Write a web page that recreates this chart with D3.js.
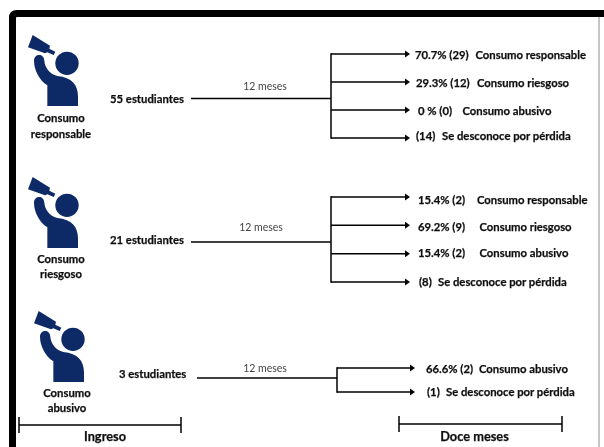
<!DOCTYPE html>
<html><head><meta charset="utf-8">
<script src="https://cdn.jsdelivr.net/npm/d3@7"></script>
<style>html,body{margin:0;padding:0;background:#fff}svg{display:block}text{font-family:Lato,"Open Sans",sans-serif;fill:#111}.b{font-weight:700;stroke:#111;stroke-width:.25px}</style>
</head><body><svg id="c" width="604" height="447"></svg>
<script>
// DATA
const groupNames = [["Consumo","responsable"],["Consumo","riesgoso"],["Consumo","abusivo"]];
const baselineLabels = ["55 estudiantes","21 estudiantes","3 estudiantes"];
const intervalLabel = "12 meses";
const resultLabels = [
  ["70.7% (29)","29.3% (12)","0 % (0)","(14)"],
  ["15.4% (2)","69.2% (9)","15.4% (2)","(8)"],
  ["66.6% (2)","(1)"]
];
const outcomeLabels = [
  ["Consumo responsable","Consumo riesgoso","Consumo abusivo","Se desconoce por pérdida"],
  ["Consumo responsable","Consumo riesgoso","Consumo abusivo","Se desconoce por pérdida"],
  ["Consumo abusivo","Se desconoce por pérdida"]
];
const stageLabels = ["Ingreso","Doce meses"];

// LAYOUT
const layout = [
  {dx:0, dy:0, nameX:61, nameY:[122,138], baseX:110, baseY:103, startX:191, stemX:331, endX:410, mainY:98.5, top:54, bottom:138, midX:265, midY:90,
   resX:[415,416,418,416], outX:[475.5,477,462.5,442], textY:[59,87,115,140]},
  {dx:0, dy:142, nameX:61, nameY:[263,278], baseX:110, baseY:244, startX:191, stemX:331, endX:410, mainY:242, top:197, bottom:282, midX:261, midY:231,
   resX:[418,418,418,419], outX:[477,479.5,479.5,438], textY:[204,231,257,286]},
  {dx:6, dy:276, nameX:67, nameY:[397,412], baseX:119, baseY:378, startX:197, stemX:337, endX:415, mainY:378, top:368, bottom:392, midX:265, midY:372,
   resX:[426,427], outX:[479,446], textY:[373,396]}
];
const stageLayout = [{x0:19,x1:181,y:425,ty:441},{x0:399,x1:562,y:424,ty:441}];
const iconBlue = "#0d2a66";

const svg = d3.select("#c");
svg.append("defs").append("filter").attr("id","soft").append("feGaussianBlur").attr("stdDeviation",0.35);
const root = svg.append("g").attr("filter","url(#soft)");

// frame
root.append("path").attr("d","M12.5,447V18Q12.5,13.5 17,13.5H604").attr("fill","none").attr("stroke","#000").attr("stroke-width",7);
root.append("line").attr("x1",599).attr("x2",599).attr("y1",17).attr("y2",447).attr("stroke","#8c8c8c").attr("stroke-width",1);

const arrow = (g,x,y)=>g.append("path").attr("d",d3.line()([[x-5,y-3.5],[x,y],[x-5,y+3.5]])+"Z").attr("fill","#000");

layout.forEach((L,i)=>{
  const g = root.append("g");
  // icon
  const ic = g.append("g").attr("transform",`translate(${L.dx},${L.dy}) scale(${1/3})`).attr("fill",iconBlue);
  ic.append("path").attr("d","M98,105L150,137L148,146L166,155L161,165L142,157L135,160L84,142Z");
  ic.append("path").attr("d","M102,182C102,160 132,158 133,182C134,200 148,222 172,228C216,232 234,255 234,290V318H142V256C118,240 102,210 102,182Z");
  ic.append("circle").attr("cx",201).attr("cy",190).attr("r",35).attr("stroke","#fff").attr("stroke-width",6).attr("paint-order","stroke");
  // names
  groupNames[i].forEach((t,k)=>g.append("text").attr("class","b").attr("x",L.nameX).attr("y",L.nameY[k]).attr("text-anchor","middle").attr("font-size",11.3).text(t));
  g.append("text").attr("class","b").attr("x",L.baseX).attr("y",L.baseY).attr("font-size",11.3).text(baselineLabels[i]);
  g.append("text").attr("x",L.midX).attr("y",L.midY).attr("text-anchor","middle").attr("font-size",10.5).style("fill","#444").text(intervalLabel);
  // tree
  const y = d3.scalePoint().domain(d3.range(resultLabels[i].length)).range([L.top,L.bottom]);
  const line = (a,b,c,d,w)=>g.append("line").attr("x1",a).attr("y1",b).attr("x2",c).attr("y2",d).attr("stroke","#000").attr("stroke-width",w);
  line(L.startX,L.mainY,L.stemX,L.mainY,1.5);
  line(L.stemX,L.top-0.7,L.stemX,L.bottom+0.7,1.5);
  resultLabels[i].forEach((t,k)=>{
    const yy = y(k);
    line(L.stemX,yy,L.endX-3,yy,1.5);
    arrow(g,L.endX,yy);
    g.append("text").attr("class","b").attr("x",L.resX[k]).attr("y",L.textY[k]).attr("font-size",11.3).text(t);
    g.append("text").attr("class","b").attr("x",L.outX[k]).attr("y",L.textY[k]).attr("font-size",11.3).text(outcomeLabels[i][k]);
  });
});
// stage brackets
stageLabels.forEach((t,i)=>{
  const S = stageLayout[i], g = root.append("g").attr("stroke","#000");
  g.append("line").attr("x1",S.x0).attr("x2",S.x1).attr("y1",S.y).attr("y2",S.y).attr("stroke-width",1.5);
  [S.x0,S.x1].forEach(x=>g.append("line").attr("x1",x).attr("x2",x).attr("y1",S.y-8).attr("y2",S.y+8).attr("stroke-width",1.5));
  root.append("text").attr("class","b").attr("x",(S.x0+S.x1)/2 + (i?-6:5)).attr("y",S.ty).attr("text-anchor","middle").attr("font-size",12.8).text(t);
});
</script></body></html>
